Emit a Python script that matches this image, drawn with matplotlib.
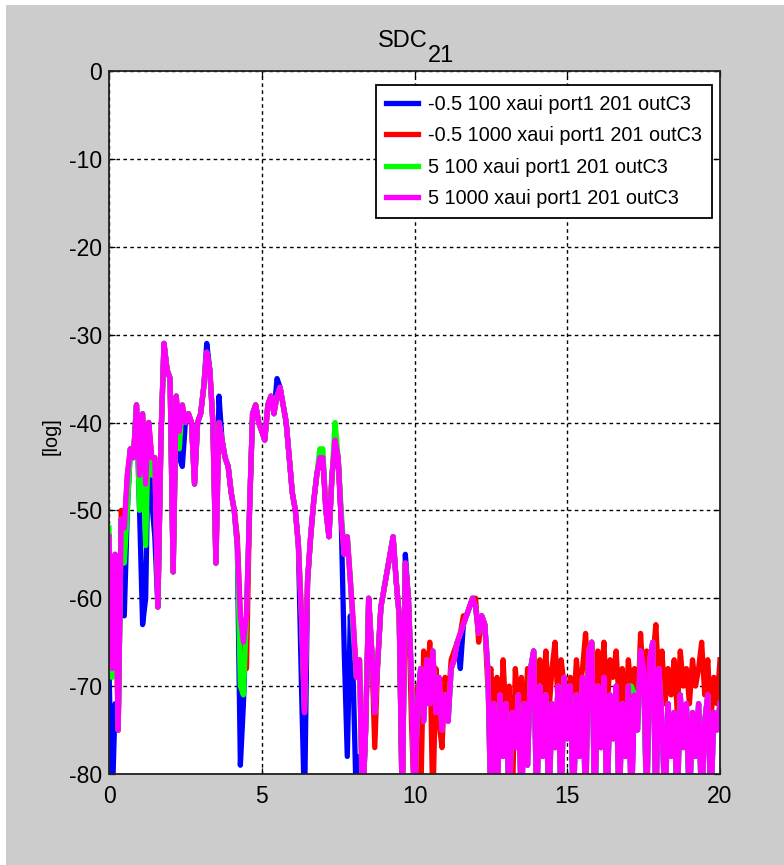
import matplotlib
matplotlib.use('Agg')
import matplotlib.pyplot as plt
from matplotlib.patches import Rectangle
from matplotlib import font_manager as fm
import numpy as np

# ---------------- data ----------------
freq = np.round(np.arange(201) * 0.1, 1)   # 0 .. 20 in 0.1 steps

labels = ["-0.5 100 xaui port1 201 outC3",
          "-0.5 1000 xaui port1 201 outC3",
          "5 100 xaui port1 201 outC3",
          "5 1000 xaui port1 201 outC3"]
colors = ["#0000ff", "#ff0000", "#00ff00", "#ff00ff"]

blue_100 = [
    -68, -84, -72, -75, -51, -62, -50, -43, -44, -38,
    -50, -63, -60, -40, -49, -53, -61, -42, -31, -34,
    -35, -57, -37, -44, -45, -40, -39, -40, -47, -40,
    -39, -36, -31, -34, -40, -56, -37, -42, -44, -45,
    -48, -50, -54, -79, -72, -62, -50, -39, -38, -40,
    -41, -42, -38, -37, -39, -35, -36, -38, -40, -44,
    -48, -50, -54, -70, -84, -58, -53, -49, -46, -44,
    -44, -50, -53, -46, -43, -44, -51, -66, -78, -62,
    -70, -84, -78, -84, -75, -60, -66, -73, -67, -61,
    -59, -57, -55, -53, -58, -62, -84, -55, -60, -69,
    -84, -72, -68, -74, -67, -72, -66, -73, -69, -75,
    -71, -74, -68, -67, -65, -68, -63, -62, -61, -60,
    -61, -64, -62, -63, -68, -84, -72, -84, -71, -78,
    -72, -84, -73, -77, -71, -84, -72, -79, -68, -66,
    -84, -70, -78, -71, -84, -72, -77, -70, -84, -69,
    -76, -70, -84, -71, -78, -69, -84, -66, -65, -84,
    -70, -77, -69, -84, -71, -76, -70, -84, -72, -78,
    -70, -84, -71, -75, -66, -68, -84, -67, -65, -84,
    -68, -74, -84, -72, -78, -73, -84, -71, -77, -72,
    -84, -73, -78, -72, -84, -74, -71, -84, -73, -75,
    -72]

red_1000 = [
    -53, -68, -55, -75, -50, -52, -46, -43, -44, -38,
    -46, -39, -47, -40, -44, -44, -61, -42, -31, -34,
    -35, -57, -37, -41, -38, -40, -39, -40, -47, -40,
    -39, -36, -32, -34, -40, -56, -40, -42, -44, -45,
    -48, -50, -53, -62, -65, -68, -50, -39, -38, -40,
    -41, -42, -38, -37, -39, -37, -36, -38, -40, -44,
    -48, -50, -54, -62, -73, -58, -53, -49, -46, -44,
    -44, -50, -53, -46, -42, -44, -51, -55, -53, -58,
    -63, -69, -67, -84, -75, -60, -66, -77, -67, -61,
    -59, -57, -55, -53, -58, -62, -84, -56, -60, -74,
    -84, -70, -84, -66, -72, -65, -84, -68, -74, -77,
    -69, -72, -67, -66, -65, -64, -62, -62, -61, -60,
    -60, -65, -62, -63, -70, -68, -75, -69, -78, -67,
    -74, -70, -84, -68, -73, -69, -76, -68, -72, -66,
    -74, -67, -71, -66, -73, -68, -65, -72, -67, -70,
    -75, -69, -73, -67, -71, -68, -64, -70, -65, -72,
    -66, -70, -65, -73, -67, -69, -66, -72, -68, -74,
    -67, -71, -68, -73, -64, -70, -66, -69, -67, -63,
    -70, -66, -72, -68, -71, -67, -73, -66, -70, -68,
    -72, -67, -70, -68, -65, -71, -67, -74, -69, -72,
    -67]

green_100 = [
    -52, -69, -55, -75, -51, -56, -50, -43, -44, -38,
    -50, -39, -54, -40, -46, -44, -61, -42, -31, -34,
    -35, -57, -37, -43, -38, -40, -39, -40, -47, -40,
    -39, -36, -32, -34, -40, -56, -40, -42, -44, -45,
    -48, -50, -54, -70, -71, -62, -50, -39, -38, -40,
    -41, -42, -38, -37, -39, -37, -36, -38, -40, -44,
    -48, -50, -54, -62, -73, -58, -53, -49, -46, -43,
    -43, -50, -53, -46, -40, -44, -50, -55, -53, -58,
    -64, -69, -67, -84, -75, -60, -66, -73, -67, -61,
    -59, -57, -55, -53, -58, -62, -84, -56, -60, -69,
    -84, -72, -68, -74, -67, -72, -66, -73, -69, -75,
    -71, -74, -68, -67, -65, -64, -63, -62, -61, -60,
    -61, -64, -62, -63, -68, -84, -72, -84, -71, -78,
    -72, -84, -73, -77, -71, -84, -72, -79, -68, -66,
    -84, -70, -78, -71, -84, -72, -77, -70, -84, -69,
    -76, -70, -84, -71, -78, -69, -84, -66, -65, -84,
    -70, -77, -69, -84, -71, -76, -70, -84, -72, -78,
    -70, -70, -71, -75, -66, -70, -84, -67, -65, -84,
    -68, -74, -84, -72, -78, -73, -84, -71, -77, -72,
    -84, -73, -78, -72, -84, -74, -71, -84, -73, -75,
    -72]

magenta_1000 = [
    -53, -68, -55, -75, -51, -52, -46, -43, -44, -38,
    -46, -39, -47, -40, -44, -44, -61, -42, -31, -34,
    -35, -57, -37, -41, -38, -40, -39, -40, -47, -40,
    -39, -36, -32, -34, -40, -56, -40, -42, -44, -45,
    -48, -50, -54, -62, -65, -62, -50, -39, -38, -40,
    -41, -42, -38, -37, -39, -37, -36, -38, -40, -44,
    -48, -50, -54, -62, -73, -58, -53, -49, -46, -44,
    -44, -50, -53, -46, -42, -44, -51, -55, -53, -58,
    -63, -69, -67, -84, -75, -60, -66, -73, -67, -61,
    -59, -57, -55, -53, -58, -62, -84, -56, -60, -69,
    -84, -72, -68, -74, -67, -72, -66, -73, -69, -75,
    -71, -74, -68, -67, -65, -64, -63, -62, -61, -60,
    -61, -64, -62, -63, -68, -84, -72, -84, -71, -78,
    -72, -84, -73, -77, -71, -84, -72, -79, -68, -66,
    -84, -70, -78, -71, -84, -72, -77, -70, -84, -69,
    -76, -70, -84, -71, -78, -69, -84, -66, -65, -84,
    -70, -77, -69, -84, -71, -76, -70, -84, -72, -78,
    -70, -84, -71, -75, -66, -68, -84, -67, -65, -84,
    -68, -74, -84, -72, -78, -73, -84, -71, -77, -72,
    -84, -73, -78, -72, -84, -74, -71, -84, -73, -75,
    -72]

series = [blue_100, red_1000, green_100, magenta_1000]
for s in series:
    assert len(s) == len(freq), len(s)

xticks = [0, 5, 10, 15, 20]
yticks = [0, -10, -20, -30, -40, -50, -60, -70, -80]
title_main, title_sub = "SDC", "21"
ylabel = "[log]"

# ---------------- fonts ----------------
try:
    fm.findfont("Liberation Sans Narrow", fallback_to_default=False)
    FONT = "Liberation Sans Narrow"
    TICK_FS, LEG_FS, TITLE_FS = 19, 17, 20
except Exception:
    FONT = "Liberation Sans"
    TICK_FS, LEG_FS, TITLE_FS = 16.5, 14.3, 17
plt.rcParams['font.family'] = [FONT, 'Liberation Sans', 'DejaVu Sans']
plt.rcParams['axes.unicode_minus'] = False

# ---------------- figure ----------------
W, H = 784, 865
fig = plt.figure(figsize=(W / 100, H / 100), dpi=100)
fig.patch.set_facecolor('white')
fig.add_artist(Rectangle((6 / W, 0), 1, (H - 5) / H, transform=fig.transFigure,
                         facecolor='#cccccc', edgecolor='none', zorder=-10))

ax = fig.add_axes([109 / W, (H - 774) / H, 611 / W, 703 / H])
ax.set_facecolor('white')
ax.set_axisbelow(True)

for y, c, lab in zip(series, colors, labels):
    ax.plot(freq, y, color=c, lw=3.8, label=lab)

ax.set_xlim(0, 20)
ax.set_ylim(-80, 0)
ax.set_xticks(xticks)
ax.set_yticks(yticks)
ax.grid(True, color='black', linestyle=(0, (2.6, 2.4)), linewidth=1.0)
ax.tick_params(direction='in', top=True, right=True, length=4, width=0.9,
               labelsize=TICK_FS, colors='black')
ax.tick_params(axis='x', pad=8)
ax.tick_params(axis='y', pad=5)
for sp in ax.spines.values():
    sp.set_linewidth(1.3)
    sp.set_color('#222222')

leg = ax.legend(loc='upper right', bbox_to_anchor=(0.987, 0.98), fontsize=LEG_FS,
                frameon=True, fancybox=False, edgecolor='black', framealpha=1,
                borderpad=0.5, labelspacing=0.62, handlelength=1.6,
                handletextpad=0.5, borderaxespad=0)
leg.get_frame().set_linewidth(1.3)

fig.text(428 / W, 1 - 47 / H, title_main, ha='right', va='baseline', fontsize=TITLE_FS)
fig.text(428 / W, 1 - 62 / H, title_sub, ha='left', va='baseline', fontsize=TITLE_FS)
fig.text(51 / W, 1 - 436 / H, ylabel, rotation=90, ha='center', va='center', fontsize=LEG_FS)

fig.savefig('out.png', dpi=100, facecolor=fig.get_facecolor())
